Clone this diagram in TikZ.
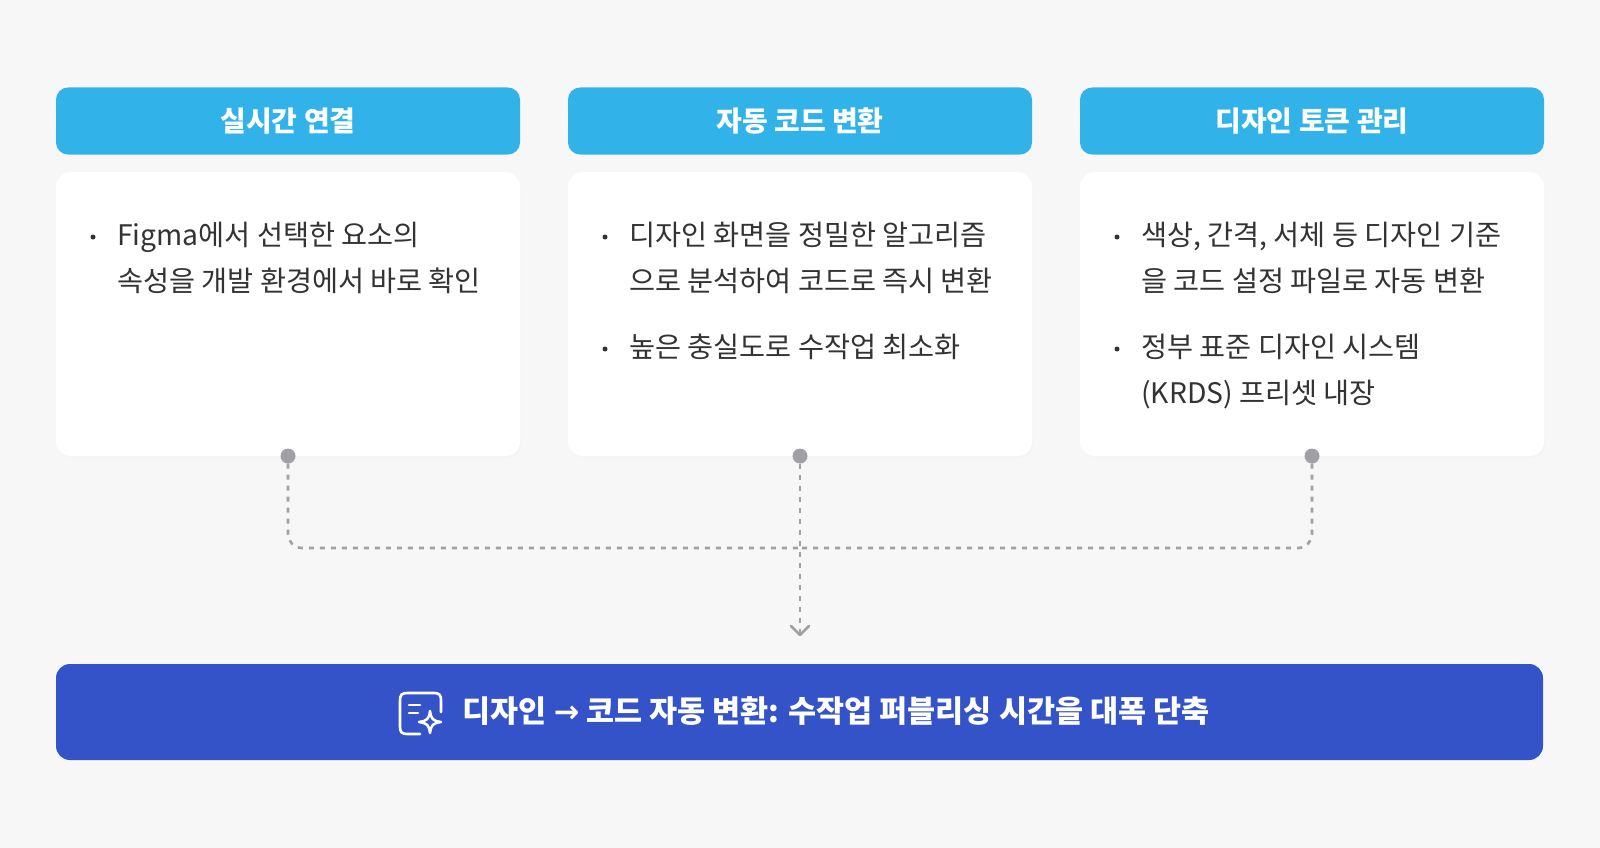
\documentclass[tikz,border=0pt]{standalone}
\usepackage{fontspec}
\setmainfont{Noto Sans CJK KR}
\newfontfamily\dv{DejaVu Sans}
\usetikzlibrary{arrows.meta}
\definecolor{bg}{HTML}{F7F7F7}
\definecolor{hdr}{HTML}{31B3E9}
\definecolor{bar}{HTML}{3553C9}
\definecolor{txt}{HTML}{333333}
\definecolor{dotc}{HTML}{A0A0A5}
\tikzset{
 hdrbox/.style={fill=hdr,rounded corners=12pt,minimum width=464pt,minimum height=67pt},
 hdrtext/.style={text=white,font=\fontsize{28}{32}\selectfont\bfseries},
 card/.style={fill=white,rounded corners=14pt,minimum width=464pt,minimum height=284pt},
 btext/.style={anchor=north west,align=left,text=txt,font=\fontsize{28.3}{46}\selectfont,inner sep=0pt},
 bul/.style={circle,fill=txt,inner sep=0pt,minimum size=5pt},
 dotn/.style={circle,fill=dotc,inner sep=0pt,minimum size=15pt},
 conn/.style={draw=dotc,line width=2.6pt,dash pattern=on 5pt off 6pt,rounded corners=14pt}
}
\begin{document}
\begin{tikzpicture}[x=1pt,y=-1pt]
\fill[bg] (0,0) rectangle (1600,848);
\useasboundingbox (0,0) rectangle (1600,848);
\foreach \i/\x in {1/288,2/800,3/1312}{
  \node[hdrbox] (h\i) at (\x,121) {};
  \fill[black!4,rounded corners=14pt] ({\x-231},174) rectangle ({\x+233},458);
  \node[card] (c\i) at (\x,314) {};
  \node[dotn] (d\i) at (\x,456) {};
}
\node[hdrtext] at (h1) {실시간 연결};
\node[hdrtext] at (h2) {자동 코드 변환};
\node[hdrtext] at (h3) {디자인 토큰 관리};
% card 1
\node[bul] (b11) at (93,237) {};
\node[btext] (t11) at (117,222) {Figma에서 선택한 요소의\\속성을 개발 환경에서 바로 확인};
% card 2
\node[bul] (b21) at (605,237) {};
\node[btext] (t21) at (629,222) {디자인 화면을 정밀한 알고리즘\\으로 분석하여 코드로 즉시 변환};
\node[bul] (b22) at (605,349) {};
\node[btext] (t22) at (629,334) {높은 충실도로 수작업 최소화};
% card 3
\node[bul] (b31) at (1117,237) {};
\node[btext] (t31) at (1141,222) {색상, 간격, 서체 등 디자인 기준\\을 코드 설정 파일로 자동 변환};
\node[bul] (b32) at (1117,349) {};
\node[btext] (t32) at (1141,334) {정부 표준 디자인 시스템\\(KRDS) 프리셋 내장};
% bottom bar
\node[fill=bar,rounded corners=14pt,minimum width=1487pt,minimum height=96pt] (bb) at (799.5,712) {};
\coordinate (m) at (800,548);
\coordinate (tip) at (800,634);
\draw[conn] (d1) |- (m);
\draw[conn] (d3) |- (m);
\draw[conn] (d2) -- (tip);
\draw[dotc,line width=2.6pt,line cap=round,line join=round] (791,626) -- (800,635) -- (809,626);
\node[text=white,font=\fontsize{30.5}{34}\selectfont\bfseries] (bt) at (836,711) {디자인 {\dv\bfseries →} 코드 자동 변환: 수작업 퍼블리싱 시간을 대폭 단축};
% icon
\begin{scope}[white,line width=2.6pt,line cap=round,line join=round]
\draw (420,734) -- (407,734) .. controls (402,734) and (400,732) .. (400,727) -- (400,700) .. controls (400,695) and (402,693) .. (407,693) -- (434,693) .. controls (439,693) and (441,695) .. (441,700) -- (441,712);
\draw (409,705) -- (420,705);
\draw (409,713) -- (418,713);
\draw (430,711) .. controls (431,719) and (433,721) .. (441,722) .. controls (433,723) and (431,725) .. (430,733) .. controls (429,725) and (427,723) .. (419,722) .. controls (427,721) and (429,719) .. (430,711) -- cycle;
\end{scope}
\end{tikzpicture}
\end{document}
